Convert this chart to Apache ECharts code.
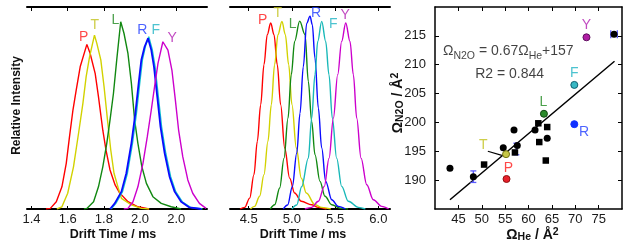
<!DOCTYPE html>
<html><head><meta charset="utf-8">
<script src="https://cdn.jsdelivr.net/npm/echarts@6/dist/echarts.min.js"></script>
<style>html,body{margin:0;padding:0;background:#fff}#c{width:624px;height:244px}</style>
</head><body><div id="c"></div>
<script>
// ---------- DATA ----------
const peakNames = ['P','T','L','R','F','Y'];
const leftTicks = [1.4,1.6,1.8,2.0,2.2];
const leftTickLabels = ['1.4','1.6','1.8','2.0','2.0'];
const midTicks = [4.5,5.0,5.5,6.0];
const midTickLabels = ['4.5','5.0','5.5','6.0'];
const heTicks = [45,50,55,60,65,70,75];
const n2oTicks = [190,195,200,205,210,215];

// Panel 1 (He drift) peaks [time ms, relative intensity]
const leftP = [[1.48,0],[1.504,0.003],[1.537,0.036],[1.568,0.11],[1.592,0.226],[1.61,0.358],[1.629,0.49],[1.647,0.589],[1.669,0.704],[1.706,0.815],[1.724,0.77],[1.752,0.67],[1.77,0.556],[1.794,0.39],[1.812,0.29],[1.834,0.193],[1.862,0.119],[1.886,0.081],[1.933,0.036],[1.988,0.011],[2.05,0]];
const leftT = [[1.54,0],[1.568,0.011],[1.6,0.078],[1.632,0.209],[1.66,0.375],[1.684,0.523],[1.702,0.655],[1.721,0.754],[1.748,0.861],[1.761,0.82],[1.783,0.738],[1.801,0.605],[1.82,0.44],[1.838,0.292],[1.856,0.177],[1.88,0.102],[1.897,0.053],[1.952,0.02],[2.007,0.003],[2.05,0]];
const leftL = [[1.69,0],[1.706,0.003],[1.743,0.036],[1.77,0.11],[1.794,0.209],[1.816,0.325],[1.834,0.441],[1.853,0.573],[1.871,0.738],[1.893,0.927],[1.911,0.87],[1.933,0.77],[1.952,0.622],[1.97,0.44],[1.988,0.325],[2.01,0.209],[2.035,0.127],[2.071,0.061],[2.117,0.028],[2.172,0.011],[2.227,0]];
const leftR = [[1.834,0],[1.86,0.028],[1.897,0.086],[1.924,0.177],[1.952,0.325],[1.974,0.474],[1.992,0.622],[2.007,0.738],[2.025,0.803],[2.044,0.845],[2.062,0.787],[2.077,0.704],[2.095,0.556],[2.113,0.407],[2.136,0.276],[2.163,0.16],[2.191,0.086],[2.227,0.036],[2.273,0.008],[2.338,0]];
const leftF = [[1.84,0],[1.866,0.028],[1.903,0.086],[1.93,0.177],[1.958,0.325],[1.98,0.474],[1.998,0.622],[2.013,0.738],[2.031,0.81],[2.048,0.853],[2.067,0.79],[2.083,0.704],[2.101,0.556],[2.119,0.407],[2.142,0.276],[2.169,0.16],[2.197,0.086],[2.233,0.036],[2.279,0.008],[2.345,0]];
const leftY = [[1.91,0],[1.933,0.003],[1.961,0.036],[1.988,0.11],[2.016,0.226],[2.04,0.358],[2.062,0.49],[2.08,0.605],[2.099,0.721],[2.126,0.828],[2.154,0.787],[2.176,0.688],[2.195,0.54],[2.213,0.391],[2.236,0.259],[2.264,0.144],[2.291,0.078],[2.328,0.028],[2.365,0.003]];
const leftLabelPos = [[1.688,0.85],[1.75,0.911],[1.863,0.936],[2.013,0.886],[2.087,0.886],[2.178,0.845]];

// Panel 2 (N2O drift) peaks
const midP = [[4.40,0],[4.454,0.008],[4.512,0.054],[4.561,0.17],[4.6,0.335],[4.639,0.516],[4.677,0.714],[4.715,0.863],[4.755,0.921],[4.793,0.863],[4.831,0.714],[4.87,0.516],[4.917,0.302],[4.974,0.153],[5.032,0.079],[5.109,0.038],[5.229,0.021],[5.306,0.008],[5.4,0]];
const midT = [[4.52,0],[4.569,0.013],[4.627,0.063],[4.677,0.17],[4.723,0.335],[4.762,0.516],[4.8,0.714],[4.839,0.863],[4.885,0.929],[4.924,0.863],[4.963,0.714],[5.001,0.516],[5.051,0.302],[5.109,0.153],[5.167,0.079],[5.267,0.021],[5.345,0.008],[5.45,0]];
const midL = [[4.75,0],[4.801,0.021],[4.859,0.104],[4.909,0.252],[4.955,0.45],[4.993,0.665],[5.032,0.83],[5.09,0.93],[5.152,0.863],[5.19,0.632],[5.229,0.434],[5.267,0.269],[5.325,0.137],[5.383,0.063],[5.461,0.021],[5.57,0.003],[5.65,0]];
const midR = [[4.9,0],[4.951,0.02],[5.005,0.11],[5.056,0.276],[5.094,0.474],[5.132,0.704],[5.171,0.919],[5.21,0.955],[5.236,0.912],[5.267,0.748],[5.306,0.5],[5.345,0.302],[5.391,0.137],[5.461,0.046],[5.537,0.013],[5.62,0]];
const midF = [[5.0,0],[5.056,0.02],[5.113,0.11],[5.19,0.252],[5.229,0.45],[5.267,0.665],[5.299,0.83],[5.345,0.929],[5.391,0.83],[5.429,0.665],[5.468,0.45],[5.518,0.252],[5.576,0.112],[5.653,0.038],[5.769,0.008],[5.85,0]];
const midY = [[5.15,0],[5.229,0.008],[5.306,0.038],[5.375,0.112],[5.43,0.252],[5.48,0.45],[5.53,0.665],[5.576,0.83],[5.623,0.921],[5.672,0.83],[5.711,0.665],[5.75,0.45],[5.8,0.252],[5.866,0.12],[5.942,0.046],[6.039,0.013],[6.12,0]];
const midLabelPos = [[4.662,0.936],[4.836,0.969],[5.009,0.916],[5.279,0.972],[5.479,0.916],[5.615,0.96]];

// Panel 3: CCS correlation
const circleHe  = [43.2,48.2,54.6,56.9,57.6,61.4,64.0,78.3];
const circleN2O = [192.05,190.6,195.6,198.7,196.0,198.7,197.25,215.3];
const squareHe  = [50.5,57.1,62.1,64.0,62.3,63.7];
const squareN2O = [192.7,194.8,199.85,199.2,196.6,193.4];
const labeledHe  = [55.3,55.2,63.3,69.8,69.8,72.4];   // P T L R F Y
const labeledN2O = [190.2,194.5,201.5,199.7,206.5,214.75];
const labeledTextPos = [[55.7,192.05],[50.3,196.1],[63.2,203.6],[71.9,198.3],[69.8,208.6],[72.4,216.9]];
const leaderT = [[51.3,195.0],[54.3,194.3]];
const errorBars = [[48.2,190.6,0,1.0],[57.4,195.4,0,1.0],[78.3,215.3,0.7,0]]; // x, y, dx, dy
const fitLine = [[43.2,186.6],[78.4,210.6]];
const fitText = [41.7,212.3];
const r2Text = [48.6,208.3];

// ---------- STYLE ----------
const lineColors = {P:'#ff0000',T:'#d2d200',L:'#118811',R:'#0a0aff',F:'#10c4d0',Y:'#cc00cc'};
const midColors  = {P:'#ff0000',T:'#d2d200',L:'#118811',R:'#0a0aff',F:'#18b8b8',Y:'#cc00cc'};
const textColors = {P:'#ff1a1a',T:'#c2c21c',L:'#1f8a1f',R:'#1f3cff',F:'#1fb4c4',Y:'#b21cb2'};
const markFill   = {P:'#e8202a',T:'#c6c645',L:'#2a8a2a',R:'#1030ff',F:'#38b8c4',Y:'#b01ea4'};
const markEdge   = {P:'#901010',T:'#707010',L:'#114411',R:'#1030ff',F:'#106070',Y:'#601060'};
const FONT = 'Liberation Sans, Arial, sans-serif';

const leftCurves = {P:leftP,T:leftT,L:leftL,R:leftR,F:leftF,Y:leftY};
const midCurves = {P:midP,T:midT,L:midL,R:midR,F:midF,Y:midY};

const chart = echarts.init(document.getElementById('c'), null, {renderer:'canvas'});
const black = '#000';
function axisBase(extra){
  return Object.assign({
    type:'value', splitLine:{show:false}, nameMoveOverlap:false,
    axisLine:{show:true,onZero:false,lineStyle:{color:black,width:2}},
    axisTick:{show:true,inside:true,length:4,lineStyle:{color:black,width:1}},
    axisLabel:{show:true,color:'#1a1a1a',fontFamily:FONT,fontSize:13,margin:4},
    nameTextStyle:{fontFamily:FONT,fontWeight:'bold',fontSize:12.5,color:'#111'}
  }, extra);
}
const subRich = {
  a:{fontFamily:FONT,fontWeight:'bold',fontSize:14,color:'#111',lineHeight:16,verticalAlign:'middle'},
  s:{fontFamily:FONT,fontWeight:'bold',fontSize:10.5,color:'#111',lineHeight:8,verticalAlign:'bottom'},
  p:{fontFamily:FONT,fontWeight:'bold',fontSize:10.5,color:'#111',lineHeight:8,verticalAlign:'top'}
};
const eqRich = {
  a:{fontFamily:FONT,fontSize:14,color:'#111',lineHeight:20,verticalAlign:'middle'},
  s:{fontFamily:FONT,fontSize:10.5,color:'#111',lineHeight:11,verticalAlign:'bottom'}
};
const tickFont = {color:'#1a1a1a',fontFamily:FONT,fontSize:13};

const xAxes = [
  axisBase({gridIndex:0,position:'bottom',min:1.375,max:2.37,
    axisTick:{show:true,inside:true,length:3,customValues:leftTicks,lineStyle:{color:black}},
    axisLabel:Object.assign({customValues:leftTicks,formatter:v=>leftTickLabels[leftTicks.indexOf(v)],margin:4},tickFont),
    name:'Drift Time / ms',nameLocation:'middle',nameGap:19,nameTextStyle:{fontFamily:FONT,fontWeight:'bold',fontSize:12.5,color:'#111',padding:[0,8,0,0]}}),
  axisBase({gridIndex:0,position:'top',min:1.375,max:2.37,
    axisTick:{show:true,inside:true,length:4,customValues:leftTicks,lineStyle:{color:black}},
    axisLabel:{show:false}}),
  axisBase({gridIndex:1,position:'bottom',min:4.284,max:6.135,
    axisTick:{show:true,inside:true,length:3,customValues:midTicks,lineStyle:{color:black}},
    axisLabel:Object.assign({customValues:midTicks,formatter:v=>midTickLabels[midTicks.indexOf(v)],margin:4},tickFont),
    name:'Drift Time / ms',nameLocation:'middle',nameGap:19,nameTextStyle:{fontFamily:FONT,fontWeight:'bold',fontSize:12.5,color:'#111',padding:[0,14,0,0]}}),
  axisBase({gridIndex:1,position:'top',min:4.284,max:6.135,
    axisTick:{show:true,inside:true,length:4,customValues:midTicks,lineStyle:{color:black}},
    axisLabel:{show:false}}),
  axisBase({gridIndex:2,position:'bottom',min:40,max:80,
    axisLine:{show:true,onZero:false,lineStyle:{color:black,width:1.5}},
    axisTick:{show:true,inside:true,length:4,customValues:heTicks,lineStyle:{color:black}},
    axisLabel:Object.assign({customValues:heTicks,margin:4},tickFont),
    name:'{a|Ω}{s|He}{a| / Å}{p|2}',nameLocation:'middle',nameGap:18,
    nameTextStyle:{rich:subRich,padding:[0,0,0,8]}}),
  axisBase({gridIndex:2,position:'top',min:40,max:80,
    axisLine:{show:true,onZero:false,lineStyle:{color:black,width:1.5}},
    axisTick:{show:true,inside:true,length:4,customValues:heTicks,lineStyle:{color:black}},
    axisLabel:{show:false}})
];
const yAxes = [
  {type:'value',gridIndex:0,min:0,max:1,axisLine:{show:false},axisTick:{show:false},axisLabel:{show:false},splitLine:{show:false},
   name:'Relative Intensity',nameLocation:'middle',nameRotate:90,nameGap:4,nameMoveOverlap:false,
   nameTextStyle:{fontFamily:FONT,fontWeight:'bold',fontSize:12,color:'#111',padding:[0,0,0,5]}},
  {type:'value',gridIndex:1,min:0,max:1,axisLine:{show:false},axisTick:{show:false},axisLabel:{show:false},splitLine:{show:false}},
  axisBase({gridIndex:2,position:'left',min:185,max:220,
    axisLine:{show:true,onZero:false,lineStyle:{color:black,width:1.5}},
    axisTick:{show:true,inside:true,length:4,customValues:n2oTicks,lineStyle:{color:black}},
    axisLabel:Object.assign({customValues:n2oTicks,margin:9},tickFont),
    name:'{a|Ω}{s|N2O}{a| / Å}{p|2}',nameLocation:'middle',nameRotate:90,nameGap:29,
    nameTextStyle:{rich:subRich,padding:[0,0,0,10]}}),
  axisBase({gridIndex:2,position:'right',min:185,max:220,
    axisLine:{show:true,onZero:false,lineStyle:{color:black,width:1.5}},
    axisTick:{show:true,inside:true,length:4,customValues:n2oTicks,lineStyle:{color:black}},
    axisLabel:{show:false}})
];

const series = [];
['P','T','L','F','R','Y'].forEach(k=>{
  series.push({type:'line',xAxisIndex:0,yAxisIndex:0,data:leftCurves[k],showSymbol:false,symbol:'none',
    lineStyle:{color:lineColors[k],width:k==='R'?1.8:1.4},z:3,silent:true,animation:false});
});
series.push({type:'scatter',xAxisIndex:0,yAxisIndex:0,symbolSize:0,silent:true,z:5,
  data:leftLabelPos.map((p,i)=>({value:p,label:{show:true,position:'inside',formatter:peakNames[i],color:textColors[peakNames[i]],fontFamily:FONT,fontSize:14}}))});
['P','T','L','R','F','Y'].forEach(k=>{
  series.push({type:'line',xAxisIndex:2,yAxisIndex:1,data:midCurves[k],showSymbol:false,symbol:'none',smooth:0.35,smoothMonotone:'x',
    lineStyle:{color:midColors[k],width:1.4},z:3,silent:true,animation:false});
});
series.push({type:'scatter',xAxisIndex:2,yAxisIndex:1,symbolSize:0,silent:true,z:5,
  data:midLabelPos.map((p,i)=>({value:p,label:{show:true,position:'inside',formatter:peakNames[i],color:textColors[peakNames[i]],fontFamily:FONT,fontSize:14}}))});
series.push({type:'line',xAxisIndex:4,yAxisIndex:2,data:fitLine,symbol:'none',lineStyle:{color:'#000',width:1.5},z:2,silent:true});
series.push({type:'line',xAxisIndex:4,yAxisIndex:2,data:leaderT,symbol:'none',lineStyle:{color:'#000',width:1.2},z:2,silent:true});
series.push({type:'custom',xAxisIndex:4,yAxisIndex:2,z:3,silent:true,data:errorBars,
  renderItem:(params,api)=>{
    const x=api.value(0),y=api.value(1),dx=api.value(2),dy=api.value(3);
    const st={stroke:'#5a5aff',lineWidth:1.3};
    const ch=[];
    if(dy>0){
      const a=api.coord([x,y+dy]),b=api.coord([x,y-dy]);
      ch.push({type:'line',shape:{x1:a[0],y1:a[1],x2:b[0],y2:b[1]},style:st});
      ch.push({type:'line',shape:{x1:a[0]-3,y1:a[1],x2:a[0]+3,y2:a[1]},style:st});
      ch.push({type:'line',shape:{x1:b[0]-3,y1:b[1],x2:b[0]+3,y2:b[1]},style:st});
    }
    if(dx>0){
      const a=api.coord([x-dx,y]),b=api.coord([x+dx,y]);
      ch.push({type:'line',shape:{x1:a[0],y1:a[1],x2:b[0],y2:b[1]},style:st});
      ch.push({type:'line',shape:{x1:a[0],y1:a[1]-4,x2:a[0],y2:a[1]+4},style:st});
      ch.push({type:'line',shape:{x1:b[0],y1:b[1]-4,x2:b[0],y2:b[1]+4},style:st});
    }
    return {type:'group',children:ch};
  }});
series.push({type:'scatter',xAxisIndex:4,yAxisIndex:2,symbol:'circle',symbolSize:7,z:6,silent:true,
  itemStyle:{color:'#000',opacity:1},data:circleHe.map((v,i)=>[v,circleN2O[i]])});
series.push({type:'scatter',xAxisIndex:4,yAxisIndex:2,symbol:'rect',symbolSize:6.5,z:6,silent:true,
  itemStyle:{color:'#000',opacity:1},data:squareHe.map((v,i)=>[v,squareN2O[i]])});
series.push({type:'scatter',xAxisIndex:4,yAxisIndex:2,symbol:'circle',symbolSize:7,z:7,silent:true,
  data:labeledHe.map((v,i)=>({value:[v,labeledN2O[i]],itemStyle:{color:markFill[peakNames[i]],borderColor:markEdge[peakNames[i]],borderWidth:1,opacity:1}}))});
series.push({type:'scatter',xAxisIndex:4,yAxisIndex:2,symbolSize:0,silent:true,z:8,
  data:labeledTextPos.map((p,i)=>({value:p,label:{show:true,position:'inside',formatter:peakNames[i],color:textColors[peakNames[i]],fontFamily:FONT,fontSize:14}}))});
series.push({type:'scatter',xAxisIndex:4,yAxisIndex:2,symbolSize:0,silent:true,z:8,
  data:[{value:fitText,label:{show:true,position:'right',distance:0,formatter:'{a|Ω}{s|N2O}{a| = 0.67Ω}{s|He}{a|+157}',rich:eqRich}},
        {value:r2Text,label:{show:true,position:'right',distance:0,formatter:'R2 = 0.844',fontFamily:FONT,fontSize:14,color:'#111'}}]});

chart.setOption({
  animation:false,
  backgroundColor:'#fff',
  grid:[
    {left:27,top:7,width:180,height:202,outerBoundsMode:'none',containLabel:false},
    {left:230,top:7,width:160,height:202,outerBoundsMode:'none',containLabel:false},
    {left:435,top:7,width:187,height:202,outerBoundsMode:'none',containLabel:false}],
  xAxis:xAxes, yAxis:yAxes, series:series
});
</script></body></html>
